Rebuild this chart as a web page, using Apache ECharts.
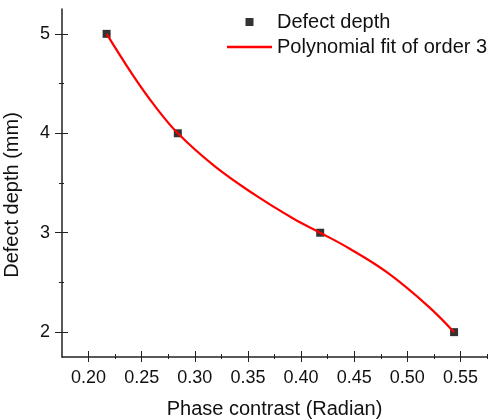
<!DOCTYPE html>
<html>
<head>
<meta charset="utf-8">
<script src="https://cdn.jsdelivr.net/npm/echarts@6/dist/echarts.min.js"></script>
<style>
  html, body { margin: 0; padding: 0; background: #fff; }
  #chart { width: 491px; height: 419px; }
</style>
</head>
<body>
<div id="chart"></div>
<script>
// measured points
var depthX = [0.217, 0.284, 0.418, 0.544];
var depthY = [5, 4, 3, 2];

// fit curve
var fitX = [0.217, 0.242, 0.262, 0.284, 0.318, 0.356, 0.393, 0.418, 0.445, 0.482, 0.520, 0.544];
var fitY = [5.0, 4.58, 4.28, 4.0, 3.675, 3.385, 3.14, 3.0, 2.844, 2.593, 2.257, 2.0];

var xMajor = [0.20, 0.25, 0.30, 0.35, 0.40, 0.45, 0.50, 0.55];
var xMinor = [0.225, 0.275, 0.325, 0.375, 0.425, 0.475, 0.525, 0.575];
var yMajor = [2, 3, 4, 5];
var yMinor = [2.5, 3.5, 4.5];

var font = 'Liberation Sans, Arial, sans-serif';
var axisColor = '#222';

function pairs(xs, ys) {
    var out = [];
    for (var i = 0; i < xs.length; i++) out.push([xs[i], ys[i]]);
    return out;
}

var myChart = echarts.init(document.getElementById('chart'));

// extra axes only carry the ticks that cross the axis line
function tickAxis(base, values, offset, len) {
    return Object.assign({}, base, {
        offset: offset,
        axisLine: {show: false},
        axisLabel: {show: false},
        splitLine: {show: false},
        name: '',
        axisTick: {show: true, customValues: values, length: len, lineStyle: {color: axisColor, width: 1}}
    });
}

var xBase = {type: 'value', position: 'bottom', min: 0.175, max: 0.575, gridIndex: 0};
var yBase = {type: 'value', position: 'left', min: 1.75, max: 5.25, gridIndex: 0};

option = {
    animation: false,
    backgroundColor: '#fff',
    textStyle: {fontFamily: font},
    grid: {left: 62, right: 4, top: 9, bottom: 62, containLabel: false, outerBoundsMode: 'none'},
    legend: {
        orient: 'vertical',
        left: 227,
        top: 12,
        padding: 0,
        itemGap: 5,
        itemWidth: 45,
        itemHeight: 8,
        textStyle: {fontSize: 20, color: '#111', fontFamily: font},
        data: [
            {name: 'Defect depth', icon: 'path://M0,0H1V1H0Z'},
            {name: 'Polynomial fit of order 3', icon: 'path://M0,0H45V2.5H0Z'}
        ]
    },
    xAxis: [
        Object.assign({}, xBase, {
            name: 'Phase contrast (Radian)',
            nameLocation: 'middle',
            nameGap: 42,
            nameTextStyle: {fontSize: 20, color: '#111', fontFamily: font},
            axisLine: {show: true, lineStyle: {color: axisColor, width: 1.5}},
            axisTick: {show: false},
            splitLine: {show: false},
            axisLabel: {
                customValues: xMajor,
                margin: 12,
                fontSize: 18,
                color: '#111',
                fontFamily: font,
                formatter: function (v) { return v.toFixed(2); }
            }
        }),
        tickAxis(xBase, xMajor, -6, 11),
        tickAxis(xBase, xMinor, -3, 5)
    ],
    yAxis: [
        Object.assign({}, yBase, {
            name: 'Defect depth (mm)',
            nameLocation: 'middle',
            nameGap: 40,
            nameRotate: 90,
            nameTextStyle: {fontSize: 20, color: '#111', fontFamily: font, padding: [0, 24, 0, 0]},
            axisLine: {show: true, lineStyle: {color: axisColor, width: 1.5}},
            axisTick: {show: false},
            splitLine: {show: false},
            axisLabel: {
                customValues: yMajor,
                margin: 12,
                fontSize: 18,
                color: '#111',
                fontFamily: font
            }
        }),
        tickAxis(yBase, yMajor, -6, 13),
        tickAxis(yBase, yMinor, -2, 5)
    ],
    series: [
        {
            name: 'Defect depth',
            type: 'scatter',
            symbol: 'rect',
            symbolSize: 8,
            itemStyle: {color: '#000'},
            data: pairs(depthX, depthY)
        },
        {
            name: 'Polynomial fit of order 3',
            type: 'line',
            showSymbol: false,
            smooth: 0.4,
            lineStyle: {color: '#f00', width: 2.2},
            itemStyle: {color: '#f00'},
            data: pairs(fitX, fitY)
        }
    ]
};

myChart.setOption(option);
</script>
</body>
</html>
